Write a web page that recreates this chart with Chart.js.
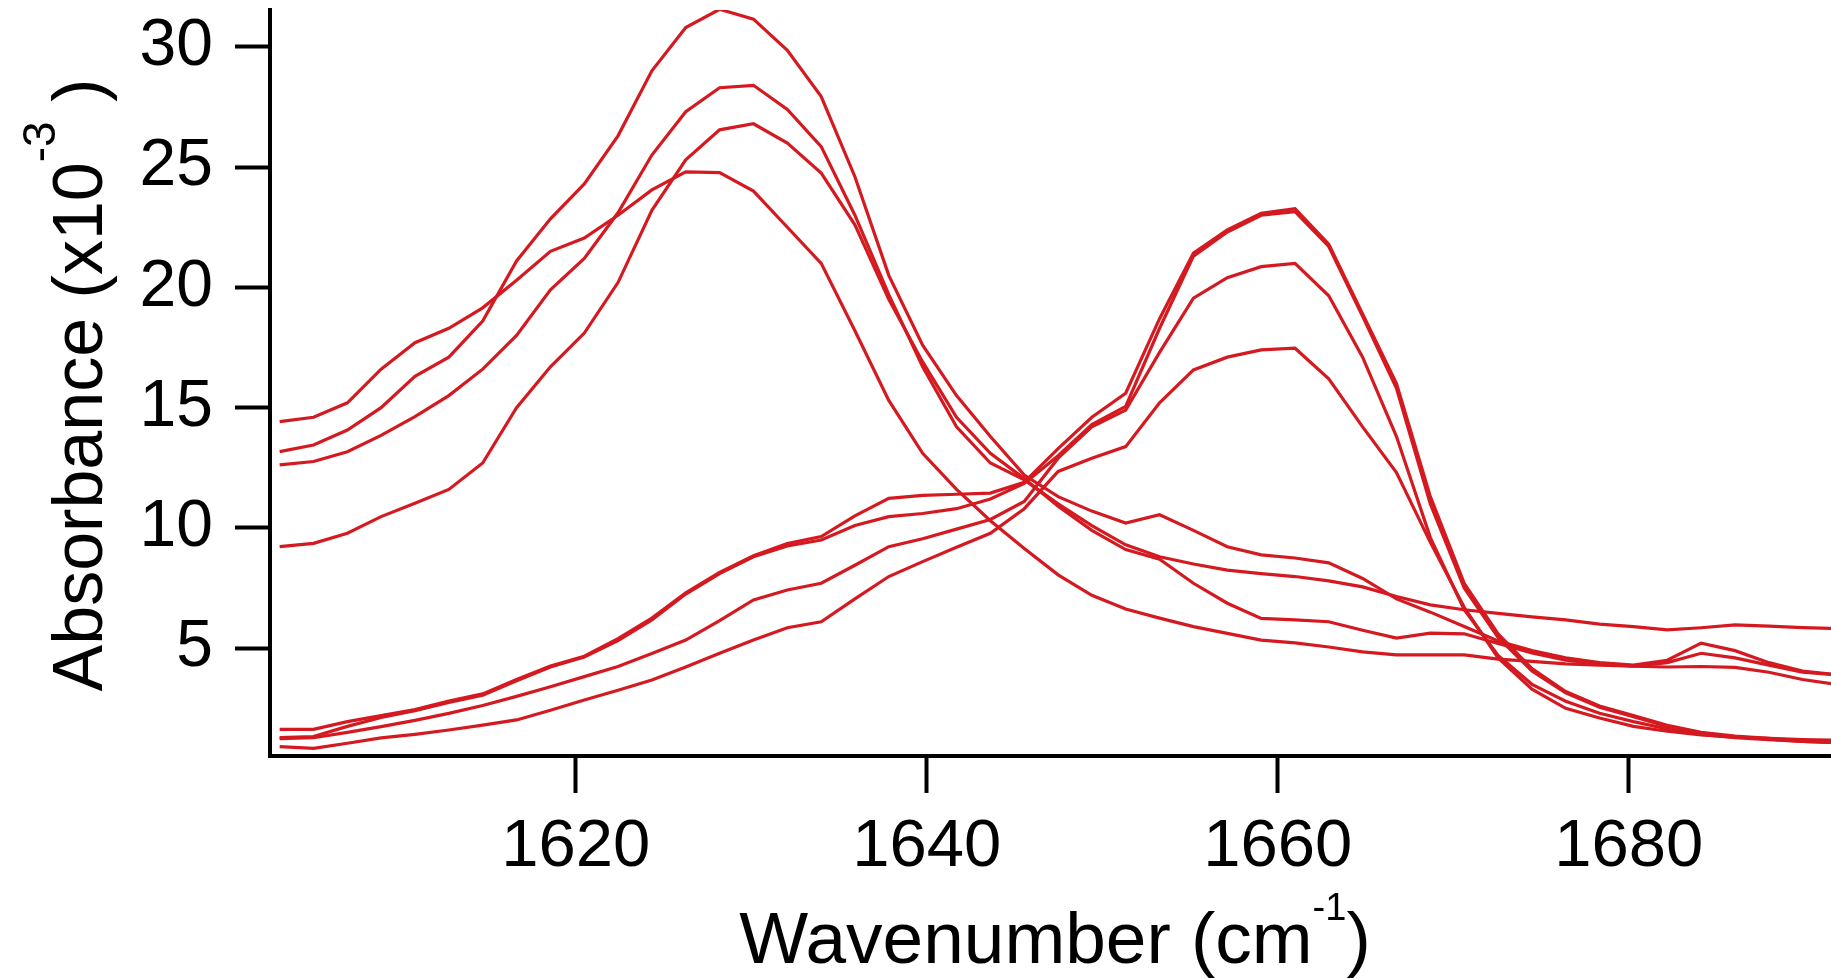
<!DOCTYPE html>
<html>
<head>
<meta charset="utf-8">
<script src="https://cdn.jsdelivr.net/npm/chart.js@4.4.1/dist/chart.umd.min.js"></script>
<style>
  html, body { margin: 0; padding: 0; background: #ffffff; }
  #wrap { width: 1831px; height: 979px; position: relative; }
  canvas { display: block; }
</style>
</head>
<body>
<div id="wrap"><canvas id="c" width="1831" height="979"></canvas></div>
<script>
// Wavenumber (cm^-1) sample positions
const wavenumbers = [1603.13,1605.06,1606.99,1608.91,1610.84,1612.77,1614.70,1616.63,1618.56,1620.49,1622.41,1624.34,1626.27,1628.20,1630.13,1632.06,1633.99,1635.91,1637.84,1639.77,1641.70,1643.63,1645.56,1647.49,1649.41,1651.34,1653.27,1655.20,1657.13,1659.06,1660.99,1662.91,1664.84,1666.77,1668.70,1670.63,1672.56,1674.49,1676.41,1678.34,1680.27,1682.20,1684.13,1686.06,1687.99,1689.91,1691.84];

// Absorbance (x10^-3) spectra
const spectrumA = [14.42,14.6,15.2,16.6,17.7,18.3,19.15,20.3,21.5,22.05,23.0,24.05,24.8,24.77,24.0,22.5,21.0,18.2,15.3,13.1,11.6,10.3,9.15,8.05,7.2,6.63,6.25,5.9,5.62,5.34,5.22,5.05,4.85,4.72,4.72,4.72,4.55,4.45,4.35,4.3,4.25,4.22,4.24,4.2,4.0,3.7,3.5];
const spectrumB = [13.17,13.45,14.07,15.0,16.3,17.1,18.6,21.1,22.85,24.3,26.3,29.0,30.8,31.56,31.15,29.85,27.93,24.6,20.5,17.6,15.5,13.8,12.2,11.3,10.7,10.2,10.55,9.9,9.22,8.88,8.75,8.55,7.9,7.05,6.5,5.9,5.3,4.9,4.6,4.4,4.3,4.5,5.21,4.9,4.4,4.05,3.9];
const spectrumC = [12.62,12.76,13.17,13.85,14.63,15.5,16.6,18.0,19.9,21.2,23.1,25.5,27.3,28.3,28.4,27.4,25.85,23.0,19.7,16.7,14.2,12.7,12.0,11.0,10.1,9.3,8.8,8.5,8.25,8.1,7.98,7.8,7.55,7.15,6.8,6.6,6.45,6.3,6.18,6.0,5.9,5.76,5.85,5.97,5.92,5.86,5.82];
const spectrumD = [9.22,9.36,9.78,10.47,11.03,11.6,12.7,15.0,16.7,18.1,20.2,23.2,25.3,26.55,26.8,26.0,24.75,22.6,19.5,16.9,14.6,13.1,12.05,10.9,9.9,9.1,8.7,7.7,6.87,6.24,6.18,6.1,5.75,5.42,5.63,5.6,5.2,4.8,4.5,4.35,4.25,4.4,4.79,4.6,4.3,4.0,3.9];
const spectrumE = [1.63,1.63,1.95,2.2,2.45,2.8,3.1,3.7,4.26,4.67,5.4,6.25,7.3,8.15,8.85,9.35,9.64,10.5,11.23,11.35,11.4,11.45,11.9,13.3,14.6,15.6,18.7,21.42,22.39,23.08,23.27,21.8,18.9,16.0,11.3,7.7,5.6,4.15,3.2,2.6,2.2,1.8,1.5,1.35,1.25,1.15,1.1];
const spectrumF = [1.28,1.33,1.75,2.12,2.4,2.75,3.05,3.65,4.22,4.63,5.32,6.18,7.25,8.1,8.8,9.25,9.5,10.1,10.47,10.6,10.8,11.2,11.85,13.0,14.3,15.05,18.3,21.3,22.3,23.0,23.15,21.7,18.8,15.8,11.0,7.5,5.45,4.05,3.15,2.55,2.15,1.75,1.47,1.32,1.22,1.13,1.08];
const spectrumG = [1.24,1.28,1.5,1.74,2.0,2.29,2.62,3.0,3.4,3.82,4.24,4.78,5.34,6.15,7.01,7.42,7.7,8.45,9.22,9.55,9.95,10.35,11.1,12.9,14.2,14.9,17.3,19.55,20.4,20.86,21.0,19.65,17.1,13.8,9.6,6.6,4.7,3.5,2.8,2.3,1.95,1.65,1.42,1.28,1.2,1.13,1.08];
const spectrumH = [0.91,0.84,1.05,1.27,1.42,1.6,1.8,2.02,2.42,2.85,3.25,3.68,4.22,4.79,5.34,5.85,6.1,7.05,7.98,8.6,9.2,9.78,10.8,12.35,12.9,13.38,15.2,16.57,17.1,17.4,17.47,16.2,14.2,12.3,9.4,6.7,4.6,3.3,2.5,2.1,1.75,1.55,1.4,1.3,1.25,1.2,1.18];

const xTicks = [1620, 1640, 1660, 1680];
const yTicks = [5, 10, 15, 20, 25, 30];

const allSpectra = [spectrumA, spectrumB, spectrumC, spectrumD, spectrumE, spectrumF, spectrumG, spectrumH];

const LINE_COLOR = 'rgb(212, 26, 32)';
const FONT = '"Liberation Sans", Arial, Helvetica, sans-serif';

const datasets = allSpectra.map((s, k) => ({
  label: 'spectrum ' + (k + 1),
  data: s.map((v, i) => ({ x: wavenumbers[i], y: v })),
  borderColor: LINE_COLOR,
  borderWidth: 3.2,
  pointRadius: 0,
  tension: 0,
  fill: false
}));

const titlePlugin = {
  id: 'axisTitles',
  afterDraw(chart) {
    const ctx = chart.ctx;
    ctx.save();
    ctx.fillStyle = '#000';
    ctx.textBaseline = 'alphabetic';
    ctx.textAlign = 'left';
    // X axis title: Wavenumber (cm^-1)
    const xMain = 'Wavenumber (cm', xSup = '-1', xEnd = ')';
    ctx.font = '73px ' + FONT;
    const w1 = ctx.measureText(xMain).width;
    const w3 = ctx.measureText(xEnd).width;
    ctx.font = '38px ' + FONT;
    const w2 = ctx.measureText(xSup).width;
    const xc = 1055, xb = 963;
    let x = xc - (w1 + w2 + w3) / 2;
    ctx.font = '73px ' + FONT;
    ctx.fillText(xMain, x, xb);
    x += w1;
    ctx.font = '38px ' + FONT;
    ctx.fillText(xSup, x, xb - 43);
    x += w2;
    ctx.font = '73px ' + FONT;
    ctx.fillText(xEnd, x, xb);

    // Y axis title: Absorbance (x10^-3 )
    const yMain = 'Absorbance (x10', ySup = '-3', yEnd = ' )';
    ctx.translate(102, 385);
    ctx.rotate(-Math.PI / 2);
    ctx.font = '70px ' + FONT;
    const v1 = ctx.measureText(yMain).width;
    const v3 = ctx.measureText(yEnd).width;
    ctx.font = '46px ' + FONT;
    const v2 = ctx.measureText(ySup).width;
    let t = -(v1 + v2 + v3) / 2;
    ctx.font = '70px ' + FONT;
    ctx.fillText(yMain, t, 0);
    t += v1;
    ctx.font = '46px ' + FONT;
    ctx.fillText(ySup, t, -47);
    t += v2;
    ctx.font = '70px ' + FONT;
    ctx.fillText(yEnd, t, 0);
    ctx.restore();
  }
};

new Chart(document.getElementById('c'), {
  type: 'line',
  data: { datasets },
  options: {
    responsive: false,
    animation: false,
    devicePixelRatio: 1,
    layout: { padding: { top: 10, right: 0, bottom: 0, left: 0 } },
    plugins: { legend: { display: false }, tooltip: { enabled: false }, title: { display: false } },
    scales: {
      x: {
        type: 'linear',
        min: 1602.58,
        max: 1691.53,
        afterBuildTicks: (scale) => { scale.ticks = xTicks.map(v => ({ value: v })); },
        afterFit: (scale) => { scale.height = 223; scale.paddingLeft = 0; scale.paddingRight = 0; },
        grid: { display: true, drawOnChartArea: false, drawTicks: true, tickLength: 37, tickWidth: 4, tickColor: '#000' },
        border: { display: true, color: '#000', width: 4 },
        ticks: { color: '#000', font: { family: FONT, size: 67 }, padding: 14, maxRotation: 0, autoSkip: false,
                 callback: (v) => String(v) },
        title: { display: false }
      },
      y: {
        type: 'linear',
        min: 0.52,
        max: 31.53,
        afterBuildTicks: (scale) => { scale.ticks = yTicks.map(v => ({ value: v })); },
        afterFit: (scale) => { scale.width = 270; scale.paddingTop = 0; scale.paddingBottom = 0; },
        grid: { display: true, drawOnChartArea: false, drawTicks: true, tickLength: 35, tickWidth: 4, tickColor: '#000' },
        border: { display: true, color: '#000', width: 4 },
        ticks: { color: '#000', font: { family: FONT, size: 66 }, padding: 22, autoSkip: false,
                 callback: (v) => String(v) },
        title: { display: false }
      }
    }
  },
  plugins: [titlePlugin]
});
</script>
</body>
</html>
